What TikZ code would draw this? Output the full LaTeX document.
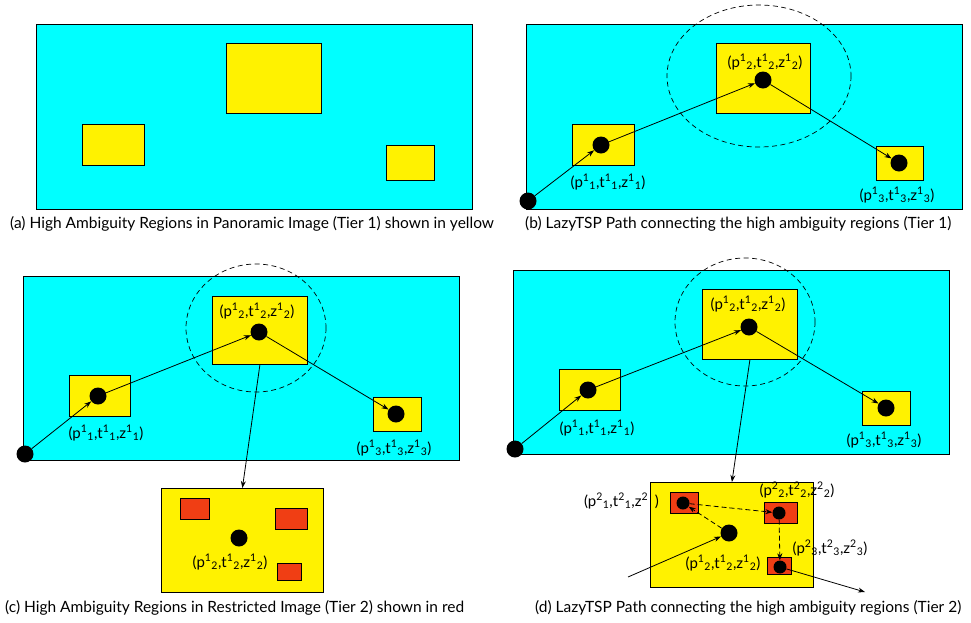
\documentclass[tikz,border=0pt]{standalone}
\usepackage{fontspec}
\setmainfont{Lato}
\usetikzlibrary{arrows.meta}
\definecolor{panelcol}{RGB}{0,255,255}
\definecolor{regioncol}{RGB}{255,242,0}
\definecolor{subcol}{RGB}{240,62,20}
\newcommand{\trip}[2]{(p\textsuperscript{#1}\textsubscript{#2},t\textsuperscript{#1}\textsubscript{#2},z\textsuperscript{#1}\textsubscript{#2})}
\tikzset{
  panelbox/.style={draw=black, fill=panelcol, line width=0.8pt, inner sep=0pt, anchor=north west},
  regionbox/.style={draw=black, fill=regioncol, line width=0.8pt, inner sep=0pt, anchor=north west},
  redbox/.style={draw=black, fill=subcol, line width=0.8pt, inner sep=0pt, anchor=north west},
  bigdot/.style={circle, fill=black, inner sep=0pt, minimum size=17pt},
  smalldot/.style={circle, fill=black, inner sep=0pt, minimum size=13pt},
  lab/.style={font=\fontsize{15}{17}\selectfont, inner sep=0pt},
  captext/.style={font=\fontsize{15.5}{18}\selectfont, inner sep=0pt, anchor=west},
  conn/.style={-{Stealth[length=7pt,width=5pt]}, line width=0.8pt},
  dconn/.style={conn, dash pattern=on 5pt off 3pt},
  zone/.style={dash pattern=on 5pt off 3.5pt, line width=0.7pt}
}
\begin{document}
\begin{tikzpicture}[x=1pt,y=-1pt]
\useasboundingbox[fill=white] (0,0) rectangle (971,622);
% ---------- (a)
\node[panelbox, minimum width=436pt, minimum height=185pt] (aP) at (36,24) {};
\node[regionbox, minimum width=95pt, minimum height=70pt] (aR2) at (226,43) {};
\node[regionbox, minimum width=62pt, minimum height=41pt] (aR1) at (82,124) {};
\node[regionbox, minimum width=48pt, minimum height=35pt] (aR3) at (386,145) {};
\node[captext] (aC) at (10,224) {(a) High Ambiguity Regions in Panoramic Image (Tier 1) shown in yellow};
% ---------- (b)
\node[panelbox, minimum width=436pt, minimum height=185pt] (bP) at (526,24) {};
\node[regionbox, minimum width=94pt, minimum height=70pt] (bR2) at (716,43) {};
\node[regionbox, minimum width=62pt, minimum height=41pt] (bR1) at (572,124) {};
\node[regionbox, minimum width=47pt, minimum height=34pt] (bR3) at (876,146) {};
\draw[zone] (759,76) ellipse [x radius=92, y radius=71];
\node[bigdot] (bS) at (528,201) {};
\node[bigdot] (bD1) at (601,145) {};
\node[bigdot] (bD2) at (763,80) {};
\node[bigdot] (bD3) at (899,163) {};
\node[lab] (bL2) at (765,62) {\trip{1}{2}};
\node[lab] (bL1) at (608,182) {\trip{1}{1}};
\node[lab] (bL3) at (897,195) {\trip{1}{3}};
\draw[conn] (bS) -- (bD1);
\draw[conn] (bD1) -- (bD2);
\draw[conn] (bD2) -- (bD3);
\node[captext] (bC) at (525,224) {(b) LazyTSP Path connecting the high ambiguity regions (Tier 1)};
% ---------- (c)
\node[panelbox, minimum width=436pt, minimum height=184pt] (cP) at (23,276) {};
\node[regionbox, minimum width=95pt, minimum height=68pt] (cR2) at (212,296) {};
\node[regionbox, minimum width=61pt, minimum height=41pt] (cR1) at (69,375) {};
\node[regionbox, minimum width=48pt, minimum height=34pt] (cR3) at (373,397) {};
\draw[zone] (256,328) ellipse [x radius=70, y radius=64];
\node[bigdot] (cS) at (25,454) {};
\node[bigdot] (cD1) at (98,396) {};
\node[bigdot] (cD2) at (259,332) {};
\node[bigdot] (cD3) at (396,414) {};
\node[lab] (cL2) at (257,311) {\trip{1}{2}};
\node[lab] (cL1) at (106,433) {\trip{1}{1}};
\node[lab] (cL3) at (394,448) {\trip{1}{3}};
\draw[conn] (cS) -- (cD1);
\draw[conn] (cD1) -- (cD2);
\draw[conn] (cD2) -- (cD3);
\node[regionbox, minimum width=162pt, minimum height=104pt] (cSub) at (161,488) {};
\draw[conn] (cR2.south) -- (cSub.north);
\node[redbox, minimum width=29pt, minimum height=21pt] (cQ1) at (180,498) {};
\node[redbox, minimum width=32pt, minimum height=21pt] (cQ2) at (275,508) {};
\node[redbox, minimum width=24pt, minimum height=17pt] (cQ3) at (277,563) {};
\node[bigdot] (cSD) at (239,538) {};
\node[lab] (cSL) at (230,562) {\trip{1}{2}};
\node[captext] (cC) at (5,608) {(c) High Ambiguity Regions in Restricted Image (Tier 2) shown in red};
% ---------- (d)
\node[panelbox, minimum width=436pt, minimum height=184pt] (dP) at (513,270) {};
\node[regionbox, minimum width=95pt, minimum height=70pt] (dR2) at (702,289) {};
\node[regionbox, minimum width=61pt, minimum height=41pt] (dR1) at (559,369) {};
\node[regionbox, minimum width=48pt, minimum height=34pt] (dR3) at (862,391) {};
\draw[zone] (745,322) ellipse [x radius=70, y radius=64];
\node[bigdot] (dS) at (515,449) {};
\node[bigdot] (dD1) at (588,390) {};
\node[bigdot] (dD2) at (749,327) {};
\node[bigdot] (dD3) at (886,408) {};
\node[lab] (dL2) at (748,304) {\trip{1}{2}};
\node[lab] (dL1) at (597,428) {\trip{1}{1}};
\node[lab] (dL3) at (884,440) {\trip{1}{3}};
\draw[conn] (dS) -- (dD1);
\draw[conn] (dD1) -- (dD2);
\draw[conn] (dD2) -- (dD3);
\node[regionbox, minimum width=163pt, minimum height=105pt] (dSub) at (650,482) {};
\draw[conn] (dR2.south) -- (dSub.north);
\node[redbox, minimum width=28pt, minimum height=21pt] (dQ1) at (670,492) {};
\node[redbox, minimum width=33pt, minimum height=21pt] (dQ2) at (764,502) {};
\node[redbox, minimum width=24pt, minimum height=17pt] (dQ3) at (767,557) {};
\node[smalldot] (dT1) at (683,503) {};
\node[smalldot] (dT2) at (779,513) {};
\node[smalldot] (dT3) at (780,567) {};
\node[bigdot] (dSD) at (729,533) {};
\coordinate (dIn) at (628,577);
\coordinate (dOut) at (865,592);
\draw[conn] (dIn) -- (dSD);
\draw[dconn] (dSD) -- (dT1);
\draw[dconn] (dT1) -- (dT2);
\draw[dconn] (dT2) -- (dT3);
\draw[conn] (dT3) -- (dOut);
\node[lab, anchor=east] (dTL1) at (659,501) {(p\textsuperscript{2}\textsubscript{1},t\textsuperscript{2}\textsubscript{1},z\textsuperscript{2}\textsubscript{\phantom{1}})};
\node[lab] (dTL2) at (797,490) {\trip{2}{2}};
\node[lab] (dTL3) at (830,548) {\trip{2}{3}};
\node[lab] (dSL) at (723,563) {\trip{1}{2}};
\node[captext] (dC) at (535,608) {(d) LazyTSP Path connecting the high ambiguity regions (Tier 2)};
\end{tikzpicture}
\end{document}
